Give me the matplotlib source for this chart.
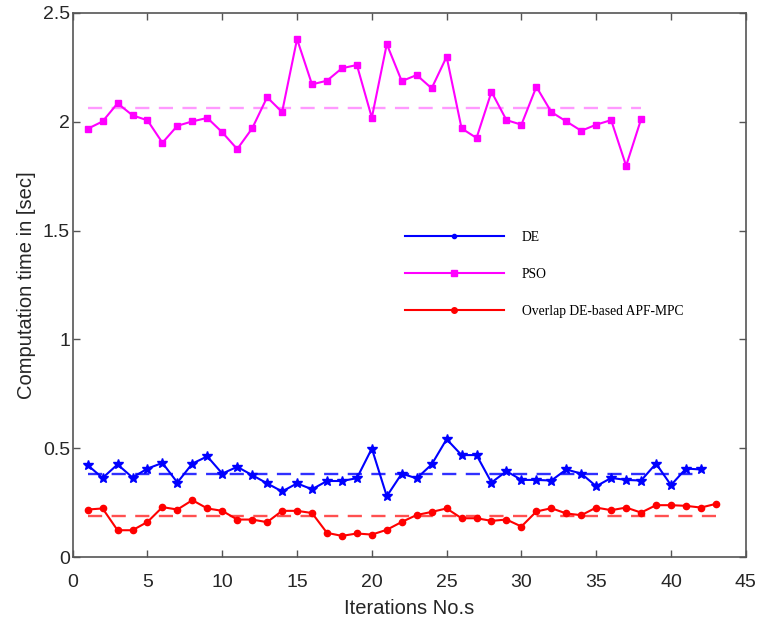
import matplotlib.pyplot as plt
from matplotlib.lines import Line2D
import numpy as np

# values
pso_time = [1.967, 2.001, 2.084, 2.029, 2.006, 1.903, 1.981, 2.001, 2.017, 1.951,
            1.874, 1.969, 2.112, 2.044, 2.379, 2.171, 2.188, 2.245, 2.260, 2.018,
            2.356, 2.186, 2.214, 2.153, 2.298, 1.969, 1.925, 2.137, 2.007, 1.986,
            2.160, 2.044, 2.001, 1.958, 1.986, 2.007, 1.797, 2.011]
de_time = [0.423, 0.364, 0.426, 0.366, 0.407, 0.433, 0.343, 0.430, 0.463, 0.384,
           0.415, 0.377, 0.339, 0.302, 0.339, 0.312, 0.350, 0.350, 0.363, 0.499,
           0.280, 0.384, 0.362, 0.426, 0.542, 0.469, 0.469, 0.343, 0.395, 0.355,
           0.355, 0.352, 0.403, 0.384, 0.326, 0.364, 0.355, 0.352, 0.430, 0.331,
           0.407, 0.403]
apf_time = [0.219, 0.224, 0.124, 0.124, 0.162, 0.230, 0.219, 0.262, 0.224, 0.213,
            0.173, 0.173, 0.161, 0.213, 0.213, 0.203, 0.112, 0.098, 0.109, 0.104,
            0.126, 0.162, 0.194, 0.208, 0.224, 0.179, 0.179, 0.167, 0.173, 0.141,
            0.210, 0.225, 0.201, 0.193, 0.228, 0.216, 0.228, 0.205, 0.239, 0.239,
            0.236, 0.228, 0.245]

# average levels (dashed lines)
pso_avg = 2.064
de_avg = 0.384
apf_avg = 0.190

labels = ["DE", "PSO", "Overlap DE-based APF-MPC"]

x_pso = np.arange(1, len(pso_time) + 1)
x_de = np.arange(1, len(de_time) + 1)
x_apf = np.arange(1, len(apf_time) + 1)

fig = plt.figure(figsize=(7.61, 6.24), dpi=100)
ax = fig.add_axes([0.0955, 0.107, 0.8845, 0.8726])

# mean lines
ax.plot([x_pso[0], x_pso[-1]], [pso_avg, pso_avg], color="#ff99ff", lw=1.7, dashes=(6, 4))
ax.plot([x_de[0], x_de[-1]], [de_avg, de_avg], color="#3030ff", lw=1.7, dashes=(6, 4))
ax.plot([x_apf[0], x_apf[-1]], [apf_avg, apf_avg], color="#ff5050", lw=1.7, dashes=(6, 4))

ax.plot(x_pso, pso_time, color="#ff00ff", lw=1.5, marker="s", ms=5)
ax.plot(x_de, de_time, color="#0000ff", lw=1.5, marker="*", ms=7)
ax.plot(x_apf, apf_time, color="#ff0000", lw=1.5, marker="o", ms=4.5)

ax.set_xlim(0, 45)
ax.set_ylim(0, 2.5)
ax.set_xticks(np.arange(0, 46, 5))
ax.set_yticks([0, 0.5, 1, 1.5, 2, 2.5])
ax.set_yticklabels(["0", "0.5", "1", "1.5", "2", "2.5"])

for s in ax.spines.values():
    s.set_color("#555555")
    s.set_linewidth(1.2)
ax.tick_params(direction="in", top=True, right=True, length=5, width=1,
               color="#555555", labelsize=14, labelcolor="#262626")
ax.tick_params(axis="x", pad=12)
ax.tick_params(axis="y", pad=2)
for lab in ax.get_xticklabels() + ax.get_yticklabels():
    lab.set_family("Liberation Sans")

ax.set_xlabel("Iterations No.s", fontsize=14.5, family="Liberation Sans", color="#262626", labelpad=6)
ax.set_ylabel("Computation time in [sec]", fontsize=14.5, family="Liberation Sans", color="#262626", labelpad=5)

# legend with small markers, no frame
handles = [Line2D([], [], color="#0000ff", lw=1.5, marker="o", ms=3),
           Line2D([], [], color="#ff00ff", lw=1.5, marker="s", ms=5),
           Line2D([], [], color="#ff0000", lw=1.5, marker="o", ms=4)]
ax.legend(handles, labels, loc="upper left", bbox_to_anchor=(0.475, 0.622), frameon=False,
          handlelength=7.3, handletextpad=1.3, labelspacing=1.78,
          prop={"family": "Liberation Serif", "size": 9.8})

plt.savefig("out.png", dpi=100)
